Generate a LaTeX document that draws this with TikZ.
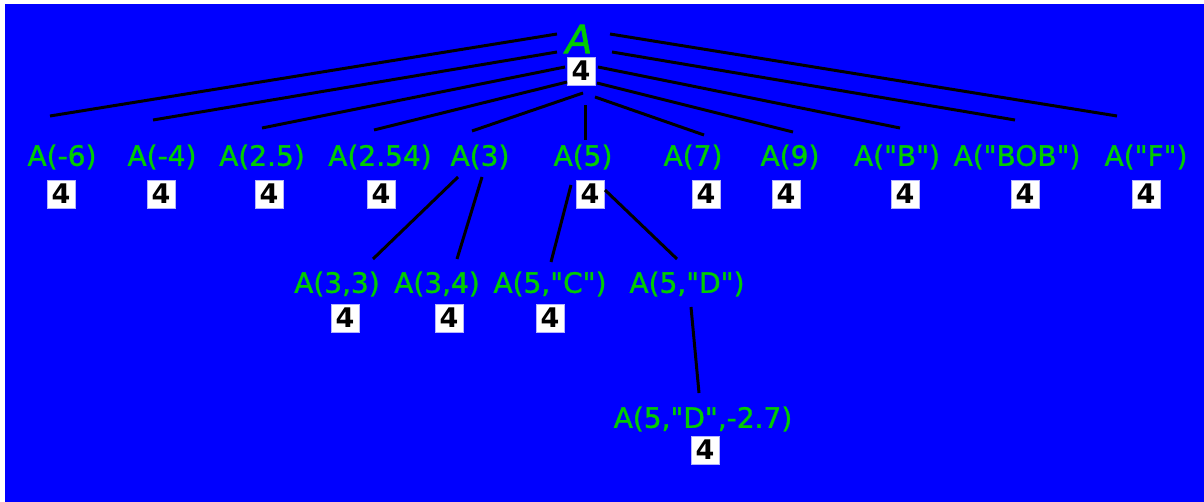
\documentclass[tikz,border=0pt]{standalone}
\usepackage{fontspec}
\setmainfont{DejaVu Sans}[Ligatures=TeXOff]
\newfontfamily\lblfont{DejaVu Sans}[Ligatures=TeXOff,FakeBold=1.2]
\newfontfamily\rootfont{DejaVu Sans Oblique}[Ligatures=TeXOff,FakeBold=1.6]
\definecolor{bgblue}{RGB}{0,0,255}
\definecolor{lblgreen}{RGB}{0,204,0}
\begin{document}
\begin{tikzpicture}[x=1pt,y=-1pt,
  lbl/.style={text=lblgreen,inner sep=0pt,font=\lblfont\fontsize{28}{30}\selectfont},
  rootlbl/.style={text=lblgreen,inner sep=0pt,font=\rootfont\fontsize{39}{40}\selectfont},
  valbox/.style={fill=white,draw=white!70!blue,line width=0.6pt,minimum width=28pt,minimum height=28pt,inner sep=0pt,font=\fontsize{27}{28}\selectfont\bfseries,text=black},
  edge/.style={black,line width=3pt}]
\useasboundingbox (0,0) rectangle (1204,502);
\fill[white] (0,0) rectangle (1204,502);
\fill[bgblue] (5,4) rectangle (1204,502);
% root
\node[rootlbl] (r) at (579,39) {A};
\node[valbox] (rb) at (581,71) {4};
% leaves
\node[lbl] (l1) at (62,157) {A(-6)};
\node[valbox] (b1) at (61,194) {4};
\node[lbl] (l2) at (162,157) {A(-4)};
\node[valbox] (b2) at (161,194) {4};
\node[lbl] (l3) at (262,157) {A(2.5)};
\node[valbox] (b3) at (269,194) {4};
\node[lbl] (l4) at (380,157) {A(2.54)};
\node[valbox] (b4) at (381,194) {4};
\node[lbl] (l5) at (480,157) {A(3)};
\node[lbl] (l6) at (583,157) {A(5)};
\node[valbox] (b6) at (590,194) {4};
\node[lbl] (l7) at (693,157) {A(7)};
\node[valbox] (b7) at (706,194) {4};
\node[lbl] (l8) at (790,157) {A(9)};
\node[valbox] (b8) at (786,194) {4};
\node[lbl] (l9) at (897,157) {A("B")};
\node[valbox] (b9) at (905,194) {4};
\node[lbl] (l10) at (1017,157) {A("BOB")};
\node[valbox] (b10) at (1025,194) {4};
\node[lbl] (l11) at (1146,157) {A("F")};
\node[valbox] (b11) at (1146,194) {4};
% middle
\node[lbl] (m1) at (337,284) {A(3,3)};
\node[valbox] (mb1) at (345,318) {4};
\node[lbl] (m2) at (437,284) {A(3,4)};
\node[valbox] (mb2) at (449,318) {4};
\node[lbl] (m3) at (550,284) {A(5,"C")};
\node[valbox] (mb3) at (550,318) {4};
\node[lbl] (m4) at (687,284) {A(5,"D")};
% bottom
\node[lbl] (d1) at (703,419) {A(5,"D",-2.7)};
\node[valbox] (db1) at (705,450) {4};
% connector end points
\coordinate (r1) at (557,34);  \coordinate (e1) at (50,116);
\coordinate (r2) at (557,52);  \coordinate (e2) at (153,120);
\coordinate (r3) at (565,67);  \coordinate (e3) at (262,128);
\coordinate (r4) at (567,82);  \coordinate (e4) at (374,130);
\coordinate (r5) at (583,93);  \coordinate (e5) at (472,131);
\coordinate (r6) at (585,105); \coordinate (e6) at (585,140);
\coordinate (r7) at (595,97);  \coordinate (e7) at (704,135);
\coordinate (r8) at (597,83);  \coordinate (e8) at (793,132);
\coordinate (r9) at (598,67);  \coordinate (e9) at (900,128);
\coordinate (r10) at (612,52); \coordinate (e10) at (1015,120);
\coordinate (r11) at (610,34); \coordinate (e11) at (1117,116);
\coordinate (s1) at (458,177); \coordinate (t1) at (373,259);
\coordinate (s2) at (482,177); \coordinate (t2) at (457,259);
\coordinate (s3) at (571,185); \coordinate (t3) at (551,262);
\coordinate (s4) at (605,190); \coordinate (t4) at (677,259);
\coordinate (s5) at (691,307); \coordinate (t5) at (699,393);
\foreach \i in {1,...,11} {\draw[edge] (r\i) -- (e\i);}
\foreach \i in {1,...,5} {\draw[edge] (s\i) -- (t\i);}
\end{tikzpicture}
\end{document}
